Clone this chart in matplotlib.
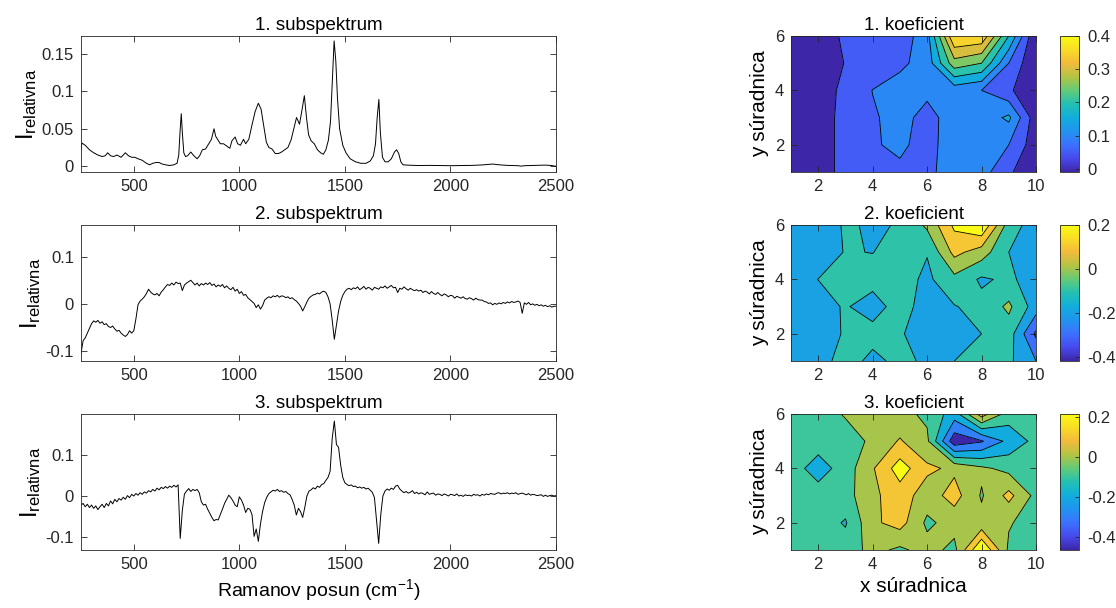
import matplotlib
matplotlib.use('Agg')
import matplotlib.pyplot as plt
import numpy as np
from matplotlib.colors import LinearSegmentedColormap, Normalize
from matplotlib.cm import ScalarMappable

plt.rcParams['font.family'] = ['Liberation Sans', 'DejaVu Sans']
plt.rcParams['mathtext.fontset'] = 'custom'
plt.rcParams['mathtext.rm'] = 'Liberation Sans'
plt.rcParams['mathtext.it'] = 'Liberation Sans:italic'
plt.rcParams['axes.unicode_minus'] = False

# --- subspektrum 1 (smooth, sampled by hand) ---
shift1 = [250, 254, 270, 290, 310, 330, 350, 365, 376, 390, 405, 420, 440, 460, 475, 490,
          505, 520, 540, 560, 575, 590, 605, 620, 635, 650, 670, 690, 705, 713, 720, 725,
          730, 737, 745, 755, 770, 785, 800, 812, 825, 840, 855, 868, 880, 888, 897, 910,
          925, 940, 955, 965, 980, 992, 1005, 1020, 1030, 1045, 1060, 1075, 1090, 1103,
          1115, 1128, 1140, 1155, 1170, 1185, 1200, 1215, 1230, 1245, 1258, 1271, 1285,
          1295, 1308, 1318, 1328, 1340, 1355, 1370, 1385, 1398, 1410, 1422, 1432, 1440,
          1449, 1457, 1465, 1475, 1490, 1505, 1525, 1550, 1575, 1600, 1620, 1635, 1645,
          1653, 1661, 1668, 1678, 1690, 1705, 1720, 1735, 1745, 1755, 1765, 1775, 1800,
          1850, 1900, 1950, 2000, 2050, 2100, 2150, 2180, 2200, 2230, 2270, 2320, 2335,
          2350, 2400, 2450, 2480, 2500]
sub1 = [0.022, 0.031, 0.028, 0.022, 0.018, 0.015, 0.013, 0.014, 0.018, 0.014, 0.013, 0.015,
        0.012, 0.018, 0.014, 0.012, 0.012, 0.010, 0.008, 0.004, 0.002, 0.004, 0.005, 0.005,
        0.003, 0.002, 0.001, 0.002, 0.004, 0.015, 0.050, 0.070, 0.045, 0.018, 0.013, 0.014,
        0.019, 0.014, 0.010, 0.014, 0.022, 0.023, 0.030, 0.036, 0.050, 0.040, 0.036, 0.030,
        0.030, 0.027, 0.024, 0.034, 0.039, 0.030, 0.028, 0.036, 0.030, 0.036, 0.055, 0.073,
        0.084, 0.076, 0.055, 0.032, 0.025, 0.023, 0.017, 0.017, 0.019, 0.022, 0.025, 0.035,
        0.050, 0.065, 0.056, 0.072, 0.094, 0.065, 0.042, 0.034, 0.030, 0.022, 0.018, 0.016,
        0.022, 0.035, 0.060, 0.110, 0.167, 0.140, 0.090, 0.050, 0.028, 0.018, 0.010, 0.006,
        0.004, 0.004, 0.007, 0.014, 0.030, 0.065, 0.089, 0.045, 0.012, 0.006, 0.006, 0.010,
        0.019, 0.022, 0.017, 0.006, 0.002, 0.0015, 0.001, 0.0012, 0.001, 0.0008, 0.001,
        0.0012, 0.0018, 0.0025, 0.003, 0.002, 0.0012, 0.0008, 0.0002, 0.0008, 0.0012,
        0.0016, 0.001, 0.0]

# --- subspektrum 2 and 3, every 10 cm-1 from 250 to 2500 ---
shift_grid = np.arange(250, 2501, 10)
sub2 = [-0.105, -0.078, -0.072, -0.062, -0.052, -0.042, -0.036, -0.039, -0.035, -0.041,
        -0.038, -0.044, -0.042, -0.048, -0.050, -0.047, -0.053, -0.058, -0.056, -0.062,
        -0.066, -0.069, -0.065, -0.057, -0.062, -0.057, -0.032, -0.002, 0.006, 0.010,
        0.015, 0.022, 0.031, 0.025, 0.021, 0.019, 0.022, 0.017, 0.025, 0.030,
        0.036, 0.041, 0.039, 0.044, 0.040, 0.046, 0.043, 0.044, 0.028, 0.040,
        0.044, 0.047, 0.050, 0.045, 0.040, 0.044, 0.038, 0.043, 0.040, 0.044,
        0.041, 0.045, 0.039, 0.042, 0.036, 0.040, 0.037, 0.041, 0.034, 0.038,
        0.033, 0.030, 0.035, 0.027, 0.031, 0.022, 0.026, 0.018, 0.020, 0.013,
        0.009, 0.005, 0.001, -0.008, -0.002, -0.011, -0.004, 0.008, 0.012, 0.015,
        0.013, 0.017, 0.015, 0.018, 0.014, 0.017, 0.016, 0.013, 0.015, 0.011,
        0.013, 0.009, 0.006, 0.001, -0.005, -0.015, -0.006, 0.004, 0.012, 0.016,
        0.019, 0.020, 0.023, 0.021, 0.025, 0.027, 0.024, 0.015, 0.000, -0.035,
        -0.075, -0.045, -0.015, 0.005, 0.018, 0.026, 0.031, 0.033, 0.030, 0.034,
        0.032, 0.036, 0.030, 0.033, 0.037, 0.031, 0.035, 0.033, 0.029, 0.035,
        0.033, 0.031, 0.036, 0.034, 0.038, 0.033, 0.036, 0.039, 0.034, 0.035,
        0.024, 0.033, 0.031, 0.036, 0.032, 0.029, 0.033, 0.030, 0.028, 0.030,
        0.027, 0.029, 0.024, 0.027, 0.025, 0.021, 0.026, 0.022, 0.020, 0.024,
        0.020, 0.017, 0.021, 0.019, 0.015, 0.018, 0.017, 0.012, 0.016, 0.014,
        0.012, 0.015, 0.011, 0.010, 0.013, 0.011, 0.008, 0.012, 0.009, 0.008,
        0.008, 0.005, 0.004, 0.001, 0.002, -0.002, 0.001, -0.001, 0.002, 0.000,
        0.003, 0.001, 0.004, 0.002, 0.005, 0.003, 0.004, 0.006, 0.003, -0.020,
        0.002, -0.001, 0.003, -0.002, 0.000, -0.003, -0.001, -0.004, -0.002, -0.005,
        -0.003, -0.006, -0.004, -0.007, -0.005, -0.005]
sub3 = [-0.022, -0.018, -0.026, -0.020, -0.028, -0.022, -0.030, -0.024, -0.033, -0.026,
        -0.020, -0.028, -0.018, -0.024, -0.012, -0.019, -0.008, -0.014, -0.006, -0.010,
        -0.003, -0.008, 0.001, -0.004, 0.004, 0.000, 0.006, 0.002, 0.008, 0.004,
        0.010, 0.007, 0.013, 0.010, 0.016, 0.012, 0.019, 0.015, 0.021, 0.018,
        0.023, 0.019, 0.024, 0.021, 0.026, 0.022, 0.027, -0.103, -0.035, 0.005,
        0.012, 0.018, 0.011, 0.016, 0.013, 0.016, 0.008, -0.014, -0.022, -0.020,
        -0.032, -0.042, -0.052, -0.060, -0.057, -0.058, -0.045, -0.032, -0.018, -0.008,
        0.002, -0.004, -0.012, -0.022, -0.026, -0.002, -0.010, -0.022, -0.040, -0.030,
        -0.032, -0.045, -0.098, -0.080, -0.110, -0.068, -0.038, -0.016, -0.003, 0.006,
        0.010, 0.014, 0.012, 0.016, 0.011, 0.013, 0.009, 0.011, 0.006, 0.003,
        -0.008, -0.022, -0.046, -0.030, -0.038, -0.052, -0.028, 0.000, 0.012, 0.015,
        0.020, 0.017, 0.024, 0.021, 0.028, 0.030, 0.038, 0.045, 0.060, 0.140,
        0.182, 0.125, 0.118, 0.075, 0.045, 0.032, 0.028, 0.025, 0.027, 0.023,
        0.024, 0.020, 0.022, 0.019, 0.021, 0.017, 0.019, 0.014, 0.009, -0.004,
        -0.060, -0.115, -0.045, 0.000, 0.012, 0.017, 0.014, 0.019, 0.016, 0.024,
        0.026, 0.017, 0.012, 0.008, 0.011, 0.007, 0.009, 0.013, 0.006, 0.009,
        0.005, 0.008, 0.006, 0.003, 0.010, 0.004, 0.006, 0.007, 0.002, 0.005,
        0.004, 0.001, 0.005, 0.003, 0.000, 0.004, 0.003, 0.001, 0.005, 0.000,
        0.002, -0.001, 0.003, 0.001, 0.002, 0.000, 0.004, 0.002, 0.003, 0.000,
        0.004, 0.002, 0.005, 0.003, 0.006, 0.005, 0.004, 0.007, 0.008, 0.005,
        0.007, 0.006, 0.008, 0.005, 0.007, 0.006, 0.008, 0.004, 0.006, 0.007,
        0.005, 0.003, 0.006, 0.002, 0.004, 0.003, 0.001, 0.002, 0.003, -0.001,
        0.002, -0.001, 0.001, 0.002, 0.000, 0.001]

# --- coefficient maps, rows y = 1..6, columns x = 1..10 ---
x_coord = [1, 2, 3, 4, 5, 6, 7, 8, 9, 10]
y_coord = [1, 2, 3, 4, 5, 6]
koef1 = [
    [-0.005, 0.02, 0.07, 0.085, 0.09, 0.09, 0.12, 0.12, 0.06, 0.0],
    [-0.01, 0.02, 0.07, 0.095, 0.11, 0.08, 0.13, 0.13, 0.10, 0.02],
    [-0.008, 0.02, 0.07, 0.095, 0.115, 0.085, 0.12, 0.12, 0.16, 0.02],
    [-0.005, 0.02, 0.065, 0.101, 0.12, 0.11, 0.12, 0.10, 0.06, 0.0],
    [0.0, 0.02, 0.052, 0.07, 0.09, 0.12, 0.28, 0.25, 0.10, 0.0],
    [0.0, 0.02, 0.06, 0.065, 0.07, 0.13, 0.40, 0.39, 0.20, 0.0],
]
koef2 = [
    [-0.25, -0.25, -0.15, -0.23, -0.17, -0.22, -0.20, -0.15, -0.18, -0.30],
    [-0.25, -0.25, -0.19, -0.16, -0.19, -0.25, -0.24, -0.20, -0.15, -0.42],
    [-0.25, -0.24, -0.19, -0.25, -0.15, -0.25, -0.205, -0.17, -0.08, -0.25],
    [-0.25, -0.199, -0.15, -0.16, -0.16, -0.22, -0.13, -0.215, -0.18, -0.25],
    [-0.25, -0.25, -0.195, -0.202, -0.16, -0.195, 0.03, -0.05, -0.20, -0.25],
    [-0.25, -0.25, -0.19, -0.21, -0.195, -0.08, 0.12, 0.20, -0.15, -0.25],
]
koef3 = [
    [-0.15, -0.15, -0.15, -0.07, -0.12, -0.06, -0.13, 0.213, -0.12, -0.15],
    [-0.15, -0.15, -0.21, -0.02, 0.04, -0.12, -0.06, -0.07, -0.09, -0.15],
    [-0.15, -0.15, -0.14, -0.02, 0.05, -0.05, 0.04, -0.11, 0.03, -0.13],
    [-0.15, -0.25, -0.15, -0.01, 0.15, 0.02, -0.02, -0.08, -0.13, -0.15],
    [-0.15, -0.15, -0.15, -0.08, 0.01, -0.08, -0.467, -0.41, -0.27, -0.17],
    [-0.15, -0.15, -0.09, -0.07, -0.07, -0.12, -0.25, 0.05, -0.15, -0.15],
]

# parula-like colour map
parula = LinearSegmentedColormap.from_list('parula', [
    (0.242, 0.150, 0.660), (0.279, 0.290, 0.930), (0.237, 0.444, 0.998),
    (0.130, 0.580, 0.936), (0.066, 0.680, 0.860), (0.136, 0.754, 0.704),
    (0.383, 0.795, 0.468), (0.700, 0.768, 0.262), (0.950, 0.730, 0.238),
    (0.975, 0.860, 0.148), (0.977, 0.984, 0.081)])

edge = (0.15, 0.15, 0.15)
W, H = 1116, 608


def px_axes(fig, left, top, width, height):
    return fig.add_axes([left / W, 1 - (top + height) / H, width / W, height / H])


def style_axes(ax):
    for s in ax.spines.values():
        s.set_color(edge)
        s.set_linewidth(0.6)
    ax.tick_params(direction='in', top=True, right=True, length=4, width=0.6,
                   colors=edge, labelsize=12, pad=5)


fig = plt.figure(figsize=(W / 100, H / 100), dpi=100)

spec_tops = [36, 225, 414]
spectra = [(shift1, sub1), (shift_grid, sub2), (shift_grid, sub3)]
spec_ylim = [(-0.0076, 0.1735), (-0.121, 0.167), (-0.131, 0.199)]
spec_ticks = [([0, 0.05, 0.1, 0.15], ['0', '0.05', '0.1', '0.15']),
              ([-0.1, 0, 0.1], ['-0.1', '0', '0.1']),
              ([-0.1, 0, 0.1], ['-0.1', '0', '0.1'])]

for i in range(3):
    ax = px_axes(fig, 81, spec_tops[i], 475, 136)
    xs, ys = spectra[i]
    ax.plot(xs, ys, color='black', lw=0.7)
    ax.set_xlim(250, 2500)
    ax.set_ylim(*spec_ylim[i])
    ax.set_xticks([500, 1000, 1500, 2000, 2500])
    ax.set_yticks(spec_ticks[i][0])
    ax.set_yticklabels(spec_ticks[i][1])
    style_axes(ax)
    ax.set_title(f'{i + 1}. subspektrum', fontsize=13.5, color='black', pad=4)
    ax.set_ylabel(r'$\mathrm{I_{relativna}}$', fontsize=17, color='black', labelpad=2)
    if i == 2:
        ax.set_xlabel(r'Ramanov posun (cm$^{\mathrm{-1}}$)', fontsize=14, color='black')

inner_levels = [
    [0.05, 0.1, 0.15, 0.2, 0.25, 0.3, 0.35],
    [-0.4, -0.3, -0.2, -0.1, 0.0, 0.1],
    [-0.4, -0.3, -0.2, -0.1, 0.0, 0.1],
]
# value each filled band takes its colour from (None = data min / max)
band_value = [
    [None, 0.05, 0.1, 0.15, 0.2, 0.25, 0.3, 0.35],
    [None, -0.3, -0.2, -0.1, 0.0, 0.1, 'max'],
    [None, -0.3, -0.2, -0.1, 0.0, 0.1, 'max'],
]
cbar_ticks = [[0, 0.1, 0.2, 0.3, 0.4], [-0.4, -0.2, 0, 0.2], [-0.4, -0.2, 0, 0.2]]
maps = [koef1, koef2, koef3]

for i in range(3):
    Z = np.array(maps[i])
    zmin, zmax = Z.min(), Z.max()
    norm = Normalize(vmin=zmin, vmax=zmax)
    levels = [zmin - 1e-9] + inner_levels[i] + [zmax + 1e-9]
    vals = [zmin if v is None else zmax if v == 'max' else v for v in band_value[i]]
    band_colors = [parula(norm(v)) for v in vals]
    ax = px_axes(fig, 791, spec_tops[i], 245, 136)
    ax.contourf(x_coord, y_coord, Z, levels=levels, colors=band_colors)
    ax.contour(x_coord, y_coord, Z, levels=inner_levels[i], colors='black',
               linewidths=0.6, linestyles='solid')
    ax.set_xlim(1, 10)
    ax.set_ylim(1, 6)
    ax.set_xticks([2, 4, 6, 8, 10])
    ax.set_yticks([2, 4, 6])
    style_axes(ax)
    ax.set_title(f'{i + 1}. koeficient', fontsize=13.5, color='black', pad=4)
    ax.set_ylabel('y súradnica', fontsize=15, color='black', labelpad=4)
    if i == 2:
        ax.set_xlabel('x súradnica', fontsize=15, color='black')

    cax = px_axes(fig, 1060, spec_tops[i], 19, 136)
    cb = fig.colorbar(ScalarMappable(norm=norm, cmap=parula), cax=cax)
    cb.set_ticks(cbar_ticks[i])
    cb.set_ticklabels([f'{t:g}' for t in cbar_ticks[i]])
    cb.outline.set_edgecolor(edge)
    cb.outline.set_linewidth(0.6)
    cax.tick_params(direction='in', length=3, width=0.6, colors=edge, labelsize=12, pad=6)

fig.savefig('out.png', dpi=100)
